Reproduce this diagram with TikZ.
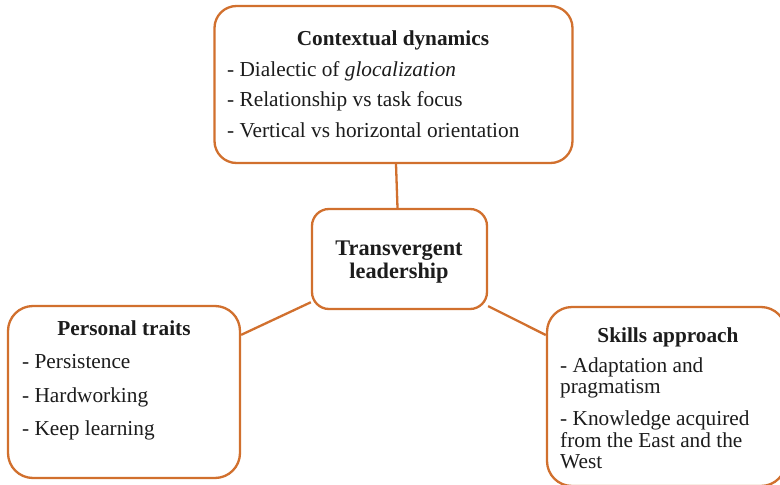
\documentclass[tikz,border=0pt]{standalone}
\usepackage{fontspec}
\setmainfont{Liberation Serif}
\usetikzlibrary{calc}
\definecolor{frame}{RGB}{209,112,46}
\definecolor{ink}{RGB}{28,28,28}
\begin{document}
\begin{tikzpicture}[x=1pt,y=-1pt,
  box/.style={draw=frame,line width=2.3pt,fill=white,rounded corners=#1,inner sep=0pt},
  box/.default=22pt,
  link/.style={draw=frame,line width=2.3pt},
  txt/.style={inner sep=0pt,text=ink,font=\fontsize{21.3}{24}\selectfont},
  item/.style={txt,anchor=base west},
  head/.style={txt,anchor=base,font=\fontsize{21.3}{24}\selectfont\bfseries},
  bighead/.style={head,font=\fontsize{22.3}{24}\selectfont\bfseries}]
\fill[white] (0,0) rectangle (780,485);
\useasboundingbox (0,0) rectangle (780,485);

% boxes
\node[box,minimum width=358pt,minimum height=157pt] (top) at (393.5,84.5) {};
\node[box=17pt,minimum width=175pt,minimum height=100pt] (ctr) at (399.5,259) {};
\node[box=25pt,minimum width=232pt,minimum height=172pt] (lft) at (124,392) {};
\node[box=25pt,minimum width=239pt,minimum height=179pt] (rgt) at (666.5,396.5) {};

% connectors
\draw[link] ($(top.south)+(2.5,0)$) -- ($(ctr.north)+(-2,0)$);
\draw[link] (ctr.206) -- (lft.26);
\draw[link] (ctr.-28) -- (rgt.153);

% contextual dynamics
\node[head] (topH) at (393,45) {Contextual dynamics};
\node[item] (topA) at (227,76) {- Dialectic of \textit{glocalization}};
\node[item] (topB) at (227,106.5) {- Relationship vs task focus};
\node[item] (topC) at (227,137) {- Vertical vs horizontal orientation};

% centre
\node[bighead] (ctrA) at (399,255) {Transvergent};
\node[bighead] (ctrB) at (399,278) {leadership};

% personal traits
\node[head] (lftH) at (124,335) {Personal traits};
\node[item] (lftA) at (22,368) {- Persistence};
\node[item] (lftB) at (22,402) {- Hardworking};
\node[item] (lftC) at (22,435) {- Keep learning};

% skills approach
\node[head] (rgtH) at (668,342) {Skills approach};
\node[item] (rgtA) at (560,372) {- Adaptation and};
\node[item] (rgtB) at (560,393.5) {pragmatism};
\node[item] (rgtC) at (560,425) {- Knowledge acquired};
\node[item] (rgtD) at (560,447) {from the East and the};
\node[item] (rgtE) at (560,468.5) {West};
\end{tikzpicture}
\end{document}
